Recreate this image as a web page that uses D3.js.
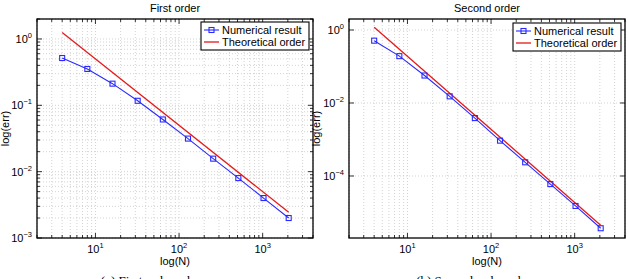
<!DOCTYPE html>
<html><head><meta charset="utf-8">
<script src="https://cdn.jsdelivr.net/npm/d3@7"></script>
<style>body{margin:0;background:#fff}svg{display:block}</style>
</head><body>
<svg id="c" width="628" height="279"></svg>
<script>
const N = [4, 8, 16, 32, 64, 128, 256, 512, 1024, 2048];
const err1 = [0.516, 0.353, 0.212, 0.117, 0.0612, 0.0315, 0.0157, 0.0080, 0.0040, 0.0020];
const theo1 = [1.25, 0.00244];     // C/N at N=4 and N=2048
const err2 = [0.51, 0.192, 0.0565, 0.0152, 0.00386, 0.00093, 0.000237, 0.000060, 0.0000151, 0.0000037];
const theo2 = [1.19, 0.0000045];   // C/N^2 at N=4 and N=2048
const theoN = [4, 2048];
const titles = ["First order", "Second order"];
const captions = ["(a) First order scheme", "(b) Second order scheme"];
const legendLabels = ["Numerical result", "Theoretical order"];
const xTicks = [10, 100, 1000];
const yTicks1 = [1, 0.1, 0.01, 0.001];
const yTicks2 = [1, 0.01, 0.0001];

const svg = d3.select("#c");
const F = "'Liberation Sans', Arial, sans-serif";
const BLUE = "#2a2aff", RED = "#e41a1a";

function supLabel(sel, v) {
  const e = Math.round(Math.log10(v));
  sel.append("tspan").text("10");
  sel.append("tspan").attr("dy", -5).attr("font-size", 7.5).text(e < 0 ? "\u2212" + (-e) : e);
}

function panel(o) {
  const g = svg.append("g");
  const x = d3.scaleLog().domain([2, 4000]).range([o.left, o.right]);
  const y = d3.scaleLog().domain(o.ydom).range([o.bottom, o.top]);

  // minor x values
  const xMinor = [];
  for (let d = 1; d <= 1000; d *= 10) for (let k = 1; k <= 9; k++) { const v = d * k; if (v >= 2 && v <= 4000) xMinor.push(v); }
  const yMinor = [];
  if (o.yminor) {
    for (let d = 0.001; d <= 1; d *= 10) for (let k = 1; k <= 9; k++) { const v = d * k; if (v >= o.ydom[0] && v <= o.ydom[1]) yMinor.push(v); }
  } else yMinor.push(...o.yticks);

  // grid
  g.selectAll(".gx").data(xMinor).join("line")
    .attr("x1", d => x(d)).attr("x2", d => x(d)).attr("y1", o.top).attr("y2", o.bottom)
    .attr("stroke", "#c8c8c8").attr("stroke-width", 0.8).attr("stroke-dasharray", "1,2");
  g.selectAll(".gy").data(yMinor).join("line")
    .attr("y1", d => y(d)).attr("y2", d => y(d)).attr("x1", o.left).attr("x2", o.right)
    .attr("stroke", "#c8c8c8").attr("stroke-width", 0.8).attr("stroke-dasharray", "1,2");

  // ticks (inside, all four sides)
  const isMajor = v => Math.abs(Math.log10(v) - Math.round(Math.log10(v))) < 1e-9;
  xMinor.forEach(v => {
    const L = isMajor(v) ? 5 : 3;
    g.append("line").attr("x1", x(v)).attr("x2", x(v)).attr("y1", o.bottom).attr("y2", o.bottom - L).attr("stroke", "#000").attr("stroke-width", 0.8);
    g.append("line").attr("x1", x(v)).attr("x2", x(v)).attr("y1", o.top).attr("y2", o.top + L).attr("stroke", "#000").attr("stroke-width", 0.8);
  });
  yMinor.forEach(v => {
    const L = isMajor(v) ? 5 : 3;
    g.append("line").attr("y1", y(v)).attr("y2", y(v)).attr("x1", o.left).attr("x2", o.left + L).attr("stroke", "#000").attr("stroke-width", 0.8);
    g.append("line").attr("y1", y(v)).attr("y2", y(v)).attr("x1", o.right).attr("x2", o.right - L).attr("stroke", "#000").attr("stroke-width", 0.8);
  });

  // box
  g.append("rect").attr("x", o.left).attr("y", o.top).attr("width", o.right - o.left).attr("height", o.bottom - o.top)
    .attr("fill", "none").attr("stroke", "#000").attr("stroke-width", 1.3);

  // tick labels
  xTicks.forEach(v => {
    const t = g.append("text").attr("x", x(v)).attr("y", o.bottom + 15).attr("text-anchor", "middle")
      .attr("font-family", F).attr("font-size", 11);
    supLabel(t, v);
  });
  o.yticks.forEach(v => {
    const t = g.append("text").attr("x", o.left - 5).attr("y", y(v) + 4).attr("text-anchor", "end")
      .attr("font-family", F).attr("font-size", 11);
    supLabel(t, v);
  });

  // data
  const line = d3.line().x(d => x(d[0])).y(d => y(d[1]));
  g.append("path").datum(theoN.map((n, i) => [n, o.theo[i]])).attr("d", line)
    .attr("fill", "none").attr("stroke", RED).attr("stroke-width", 1.3);
  g.append("path").datum(N.map((n, i) => [n, o.err[i]])).attr("d", line)
    .attr("fill", "none").attr("stroke", BLUE).attr("stroke-width", 1.1);
  g.selectAll(".m").data(N.map((n, i) => [n, o.err[i]])).join("rect")
    .attr("x", d => x(d[0]) - 2.5).attr("y", d => y(d[1]) - 2.5).attr("width", 5).attr("height", 5)
    .attr("fill", "none").attr("stroke", BLUE).attr("stroke-width", 1.1);

  // title & labels
  g.append("text").attr("x", (o.left + o.right) / 2).attr("y", 12).attr("text-anchor", "middle")
    .attr("font-family", F).attr("font-size", 11).text(o.title);
  g.append("text").attr("x", (o.left + o.right) / 2).attr("y", 265).attr("text-anchor", "middle")
    .attr("font-family", F).attr("font-size", 11).text("log(N)");
  g.append("text").attr("transform", `translate(${o.ylabX},${(o.top + o.bottom) / 2}) rotate(-90)`)
    .attr("text-anchor", "middle").attr("font-family", F).attr("font-size", 11).text("log(err)");
  g.append("text").attr("x", o.capX).attr("y", 285).attr("text-anchor", "middle")
    .attr("font-family", "'Liberation Serif', 'DejaVu Serif', serif").attr("font-size", 13).text(o.caption);

  // legend
  const lg = g.append("g").attr("transform", `translate(${o.legX},${o.legY})`);
  lg.append("rect").attr("width", 108).attr("height", 28).attr("fill", "#fff").attr("stroke", "#000").attr("stroke-width", 1.1);
  lg.append("line").attr("x1", 3).attr("x2", 18).attr("y1", 8).attr("y2", 8).attr("stroke", BLUE).attr("stroke-width", 1.1);
  lg.append("rect").attr("x", 8).attr("y", 5.5).attr("width", 5).attr("height", 5).attr("fill", "none").attr("stroke", BLUE).attr("stroke-width", 1.1);
  lg.append("line").attr("x1", 3).attr("x2", 18).attr("y1", 20).attr("y2", 20).attr("stroke", RED).attr("stroke-width", 1.3);
  legendLabels.forEach((s, i) => lg.append("text").attr("x", 21).attr("y", 12 + i * 12)
    .attr("font-family", F).attr("font-size", 11).text(s));
}

panel({left: 37, right: 313, top: 19, bottom: 238, ydom: [0.001, 2], yticks: yTicks1, yminor: true,
  err: err1, theo: theo1, title: titles[0], caption: captions[0], ylabX: 9, capX: 158, legX: 201, legY: 22});
panel({left: 349, right: 625, top: 19, bottom: 238, ydom: [2e-6, 2], yticks: yTicks2, yminor: false,
  err: err2, theo: theo2, title: titles[1], caption: captions[1], ylabX: 320, capX: 481, legX: 513, legY: 23});
</script>
</body></html>
